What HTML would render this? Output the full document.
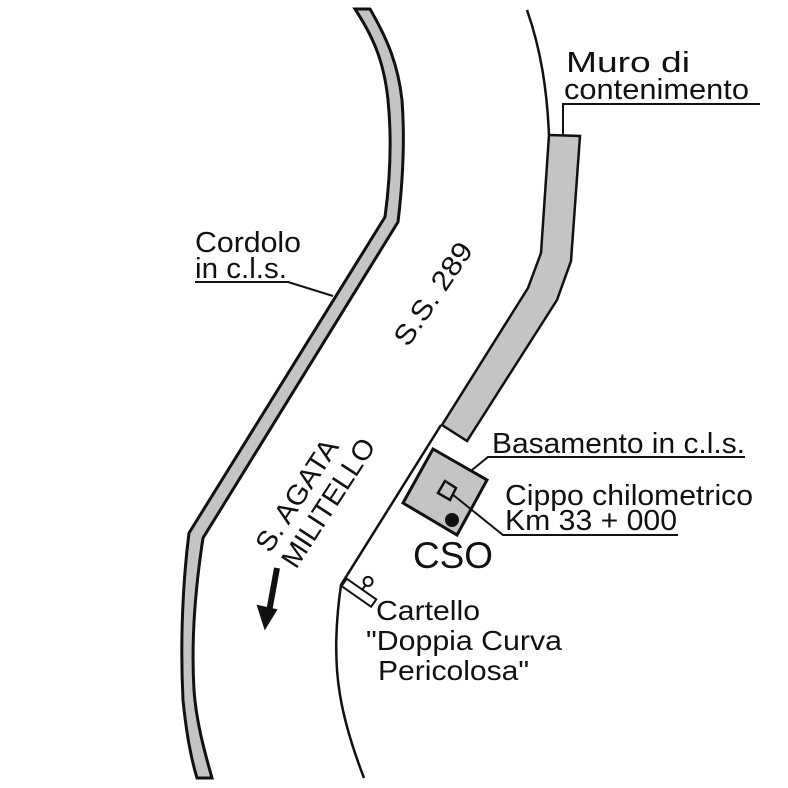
<!DOCTYPE html>
<html><head><meta charset="utf-8"><style>
html,body{margin:0;padding:0;background:#fff;}
svg{display:block;}
text{font-family:"Liberation Sans",Arial,sans-serif;fill:#111;}
</style></head><body>
<svg width="788" height="788" viewBox="0 0 788 788" xmlns="http://www.w3.org/2000/svg">
<path d="M355,9 C372,35 384,60 388,100 C392,140 390,180 385,217 L189,533 C183,580 180,640 183,700 C186,730 190,755 197,778 L212,778 C204,750 196,720 194,690 C191,640 195,590 203,538 L398,222 C403,180 405,140 402,100 C398,65 388,40 370,9 Z" fill="#c4c4c4" stroke="#111" stroke-width="3" stroke-linejoin="miter"/>
<path d="M527,10 C541,50 547,90 549,135" fill="none" stroke="#111" stroke-width="2.5"/>
<path d="M441,425 L341,585 C336,620 334,660 340,695 C345,725 354,752 364,778" fill="none" stroke="#111" stroke-width="2.5"/>
<path d="M549,135 L580,136 L571,261 L557,300 L467,441 L442,425 L528,288 L541,253 Z" fill="#c4c4c4" stroke="#111" stroke-width="2.5"/>
<polyline points="563,135 563,104 760,104" fill="none" stroke="#111" stroke-width="2"/>
<text x="566" y="72" font-size="29" textLength="124" lengthAdjust="spacingAndGlyphs">Muro di</text>
<text x="564" y="99" font-size="29" textLength="185" lengthAdjust="spacingAndGlyphs">contenimento</text>
<text x="195" y="252" font-size="29" textLength="106" lengthAdjust="spacingAndGlyphs">Cordolo</text>
<text x="195" y="278" font-size="29" textLength="92" lengthAdjust="spacingAndGlyphs">in c.l.s.</text>
<polyline points="195,282 288,282 333,296" fill="none" stroke="#111" stroke-width="2"/>
<text x="0" y="0" font-size="28" textLength="118" lengthAdjust="spacingAndGlyphs" transform="translate(408,348) rotate(-56)">S.S. 289</text>
<text x="0" y="0" font-size="28" textLength="128" lengthAdjust="spacingAndGlyphs" transform="translate(270,554) rotate(-57)">S. AGATA</text>
<text x="0" y="0" font-size="28" textLength="148" lengthAdjust="spacingAndGlyphs" transform="translate(296,570) rotate(-57)">MILITELLO</text>
<line x1="277" y1="568" x2="269" y2="612" stroke="#111" stroke-width="6"/>
<polygon points="258,606 276,610 265,628" fill="#111" stroke="#111" stroke-width="2"/>
<polygon points="433,449 487,480 457,535 403,503" fill="#c4c4c4" stroke="#111" stroke-width="3"/>
<polygon points="445,481 456,488 450,500 438,493" fill="none" stroke="#111" stroke-width="2.5"/>
<circle cx="452" cy="520" r="7" fill="#111"/>
<polyline points="472,470 488,457 745,457" fill="none" stroke="#111" stroke-width="2"/>
<text x="492" y="453" font-size="29" textLength="253" lengthAdjust="spacingAndGlyphs">Basamento in c.l.s.</text>
<polyline points="452,494 503,535 678,535" fill="none" stroke="#111" stroke-width="2"/>
<text x="505" y="505" font-size="29" textLength="248" lengthAdjust="spacingAndGlyphs">Cippo chilometrico</text>
<text x="505" y="530" font-size="29" textLength="172" lengthAdjust="spacingAndGlyphs">Km 33 + 000</text>
<text x="413" y="568" font-size="37" textLength="80" lengthAdjust="spacingAndGlyphs">CSO</text>
<g transform="translate(357,592) rotate(35)">
<rect x="-16" y="-5" width="36" height="9" fill="#fff" stroke="#111" stroke-width="2"/>
<line x1="3" y1="-5" x2="3" y2="-12" stroke="#111" stroke-width="2"/>
<circle cx="3" cy="-15" r="4.5" fill="#fff" stroke="#111" stroke-width="2"/>
</g>
<text x="376" y="620" font-size="28" textLength="104" lengthAdjust="spacingAndGlyphs">Cartello</text>
<text x="366" y="650" font-size="28" textLength="196" lengthAdjust="spacingAndGlyphs">"Doppia Curva</text>
<text x="378" y="680" font-size="28" textLength="151" lengthAdjust="spacingAndGlyphs">Pericolosa"</text>
</svg>
</body></html>
